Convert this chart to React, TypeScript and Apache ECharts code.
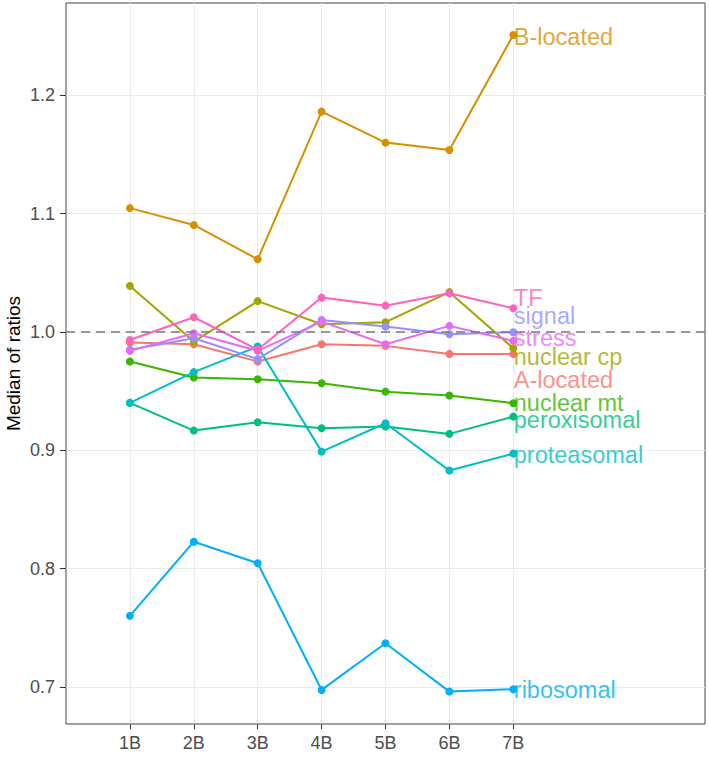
import React, { useEffect, useRef } from "react";
import * as echarts from "echarts";

const categories = ["", "1B", "2B", "3B", "4B", "5B", "6B", "7B", "", "", ""];

const seriesNames = [
  "A-located",
  "B-located",
  "nuclear cp",
  "nuclear mt",
  "peroxisomal",
  "proteasomal",
  "ribosomal",
  "signal",
  "stress",
  "TF",
];

const seriesColors = [
  "#F8766D",
  "#D89000",
  "#A3A500",
  "#39B600",
  "#00BF7D",
  "#00BFC4",
  "#00B0F6",
  "#9590FF",
  "#E76BF3",
  "#FF62BC",
];

// values for 1B..7B
const aLocated = [0.991, 0.9896, 0.975, 0.9896, 0.9882, 0.9814, 0.9814];
const bLocated = [1.1046, 1.0904, 1.0614, 1.1862, 1.16, 1.1538, 1.251];
const nuclearCp = [1.0389, 0.9918, 1.026, 1.0065, 1.0082, 1.0336, 0.9862];
const nuclearMt = [0.975, 0.9614, 0.96, 0.9566, 0.9495, 0.9462, 0.9397];
const peroxisomal = [0.94, 0.9166, 0.9237, 0.9186, 0.92, 0.9138, 0.9284];
const proteasomal = [0.94, 0.966, 0.9876, 0.8988, 0.9228, 0.8828, 0.8972];
const ribosomal = [0.76, 0.8227, 0.8045, 0.6974, 0.7368, 0.696, 0.698];
const signal = [0.985, 0.9946, 0.977, 1.0101, 1.0045, 0.998, 0.9997];
const stress = [0.984, 0.9989, 0.984, 1.0087, 0.9896, 1.0051, 0.9924];
const tf = [0.9932, 1.0124, 0.985, 1.029, 1.0222, 1.0327, 1.02];

const seriesValues = [
  aLocated,
  bLocated,
  nuclearCp,
  nuclearMt,
  peroxisomal,
  proteasomal,
  ribosomal,
  signal,
  stress,
  tf,
];

// vertical positions of the repelled end labels (in data units)
const labelValues = [
  0.9594, 1.2494, 0.9791, 0.9402, 0.9256, 0.8963, 0.6974, 1.0138, 0.9947, 1.0285,
];

const yTickValues = [0.7, 0.8, 0.9, 1.0, 1.1, 1.2];
const refLineValue = 1.0;
const yMin = 0.6686;
const yMax = 1.278;
const lastIndex = 7;

export default function App() {
  const ref = useRef<HTMLDivElement>(null);

  useEffect(() => {
    if (!ref.current) return;
    const chart = echarts.init(ref.current, undefined, { renderer: "svg" });
    const font = "'Liberation Sans', Arial, sans-serif";

    const lineSeries = seriesNames.map((name, i) => ({
      type: "line",
      name,
      data: [null, ...seriesValues[i]],
      symbol: "circle",
      symbolSize: 8,
      showSymbol: true,
      lineStyle: { color: seriesColors[i], width: 2 },
      itemStyle: { color: seriesColors[i] },
      emphasis: { disabled: true },
      z: 2 + i * 0.01,
    }));

    const labelSeries = {
      type: "scatter",
      name: "labels",
      symbolSize: 1,
      itemStyle: { color: "rgba(0,0,0,0)" },
      silent: true,
      z: 4,
      data: seriesNames.map((name, i) => ({
        name,
        value: [lastIndex, labelValues[i]],
        label: {
          show: true,
          position: "right",
          distance: 0,
          formatter: name,
          color: seriesColors[i],
          fontSize: 23.5,
          fontFamily: font,
        },
      })),
    };

    const refSeries = {
      type: "line",
      name: "ref",
      data: [],
      silent: true,
      z: 5,
      markLine: {
        silent: true,
        symbol: ["none", "none"],
        label: { show: false },
        lineStyle: { color: "#7a7a7a", type: [9, 6], width: 1.5 },
        data: [{ yAxis: refLineValue }],
      },
    };

    chart.setOption({
      animation: false,
      backgroundColor: "#ffffff",
      grid: {
        left: 66,
        top: 3,
        right: 4,
        bottom: 33,
        show: true,
        borderColor: "#444444",
        borderWidth: 1,
        backgroundColor: "transparent",
      },
      xAxis: {
        type: "category",
        data: categories,
        boundaryGap: false,
        axisLine: { show: false },
        axisTick: {
          show: true,
          length: 5,
          interval: (idx: number) => idx >= 1 && idx <= 7,
          lineStyle: { color: "#333333", width: 1 },
        },
        axisLabel: {
          interval: 0,
          margin: 10,
          color: "#4D4D4D",
          fontSize: 18,
          fontFamily: font,
        },
        splitLine: {
          show: true,
          interval: (idx: number) => idx >= 1 && idx <= 7,
          lineStyle: { color: "#EBEBEB", width: 1 },
        },
      },
      yAxis: {
        type: "value",
        min: yMin,
        max: yMax,
        splitNumber: 12,
        minInterval: 0.05,
        maxInterval: 0.05,
        axisLine: { show: false },
        axisTick: {
          show: true,
          length: 6,
          customValues: yTickValues,
          lineStyle: { color: "#333333", width: 1 },
        },
        axisLabel: {
          customValues: yTickValues,
          margin: 11,
          color: "#4D4D4D",
          fontSize: 18,
          fontFamily: font,
          formatter: (v: number) => v.toFixed(1),
        },
        splitLine: {
          show: true,
          lineStyle: { color: "#EBEBEB", width: 1 },
        },
      },
      graphic: [
        {
          type: "text",
          x: 13,
          y: 363.5,
          rotation: Math.PI / 2,
          style: {
            text: "Median of ratios",
            fontSize: 19,
            fontFamily: font,
            fill: "#000000",
            align: "center",
            verticalAlign: "middle",
          },
        },
      ],
      series: [...lineSeries, refSeries, labelSeries],
    });

    return () => chart.dispose();
  }, []);

  return (
    <div
      ref={ref}
      style={{ position: "absolute", left: 0, top: 0, width: 709, height: 757 }}
    />
  );
}
